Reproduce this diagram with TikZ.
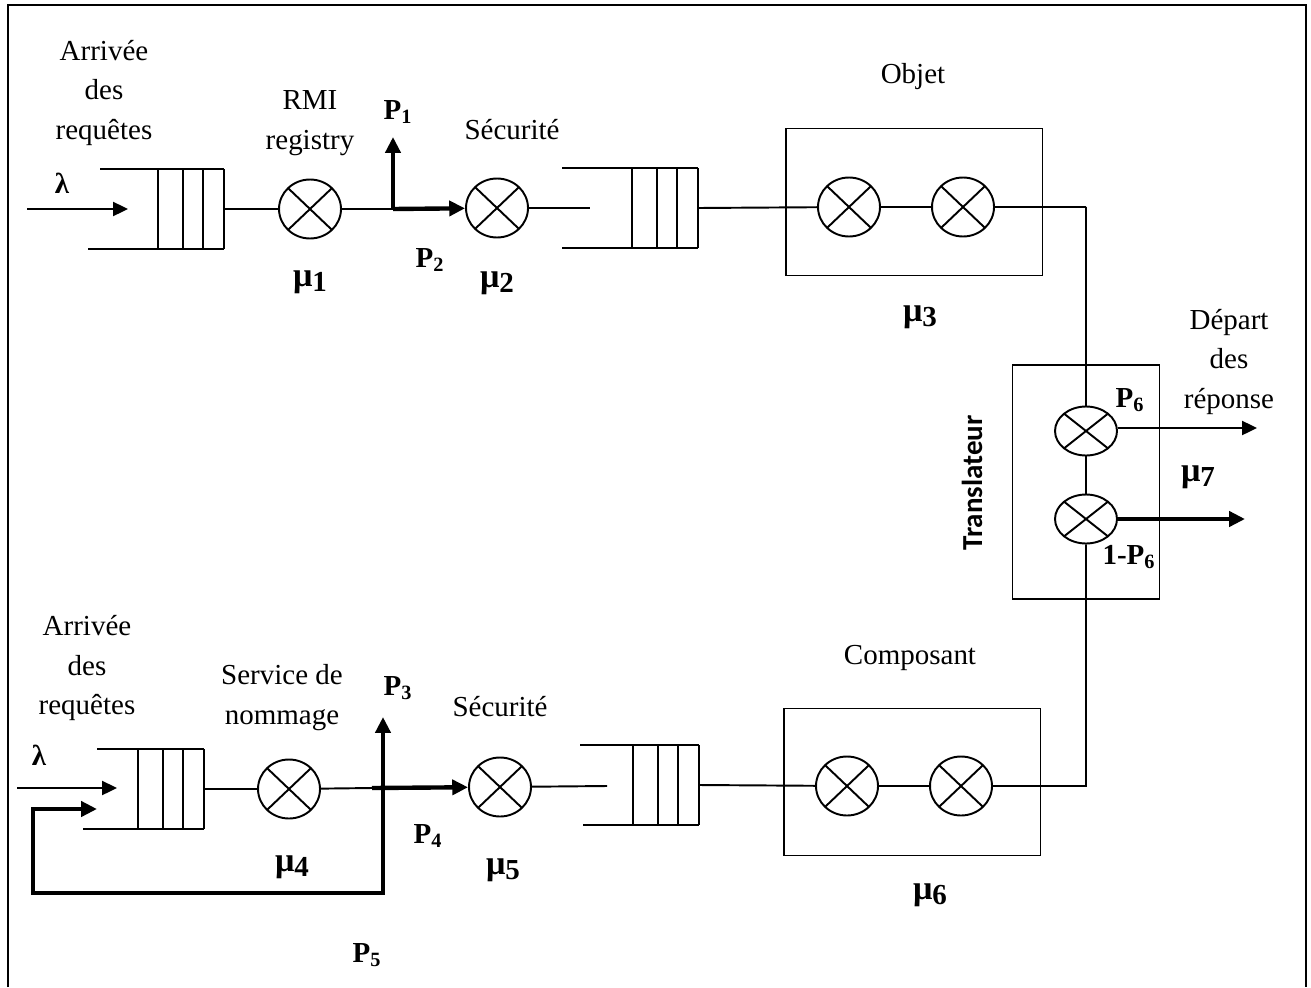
\documentclass[tikz,border=0pt]{standalone}
\usepackage{fontspec}
\setmainfont{Liberation Serif}
\newfontfamily\calibrifont{Carlito}
\usetikzlibrary{shapes.geometric, arrows.meta}

\newcommand\murate[1]{{\fontsize{19.5}{20}\selectfont μ}\raisebox{-3pt}{#1}}

\begin{document}
\begin{tikzpicture}[
    x=0.02cm, y=-0.02cm, >={Triangle[length=8.5pt, width=8pt]},
    every node/.style={font=\fontsize{16.5}{22.7}\selectfont},
    txt/.style={align=center, inner sep=0pt},
    lbl/.style={font=\fontsize{16.5}{18}\selectfont\bfseries, inner sep=0pt},
    wire/.style={line width=1.1pt},
    thickwire/.style={line width=2.5pt, >={Triangle[length=9pt, width=8.5pt]}},
    server/.style={ellipse, draw, line width=1.1pt, minimum width=1.24cm, minimum height=1.18cm, inner sep=0pt,
      path picture={\draw[line width=1.1pt]
        (path picture bounding box.north west) -- (path picture bounding box.south east)
        (path picture bounding box.north east) -- (path picture bounding box.south west);}},
    tserver/.style={server, minimum height=0.98cm},
    stage/.style={rectangle, draw, line width=1.1pt, minimum width=5.14cm, minimum height=2.94cm},
    pics/queue/.style 2 args={code={
      \draw[wire] (-#1,-40) -- (0,-40) (-#2,40) -- (0,40);
      \foreach \dx in {-66,-41,-21,0} \draw[wire] (\dx,-40) -- (\dx,40);
      \coordinate (-out) at (0,0);}},
  ]
  \useasboundingbox (0,0) rectangle (1311,987);
  % frame
  \draw[wire] (8,987) -- (8,5) -- (1306,5) -- (1306,987);

  % first chain: RMI registry
  \node[txt] (arr1) at (104,93) {Arrivée\\des\\requêtes};
  \node[lbl] (lam1) at (62,183) {λ};
  \coordinate (in1)  at (27,209);
  \coordinate (in1e) at (128,209);
  \pic (q1) at (224,209) {queue={124}{136}};
  \node[server] (s1) at (310,209) {};
  \node[txt] (rmi) at (310,123) {RMI\\registry};
  \node[lbl] (mu1) at (310,282) {\murate{1}};
  \coordinate (j1)  at (393,209);
  \coordinate (p1e) at (393,137);
  \node[lbl] (p1) at (398,112) {P\textsubscript{1}};
  \node[lbl] (p2) at (430,260) {P\textsubscript{2}};
  \node[server] (s2) at (497,208) {};
  \node[txt] (sec1) at (512,130) {Sécurité};
  \node[lbl] (mu2) at (497,283) {\murate{2}};
  \coordinate (q2in) at (590,208);
  \pic (q2) at (698,208) {queue={136}{136}};
  \node[stage] (objbox) at (914,202) {};
  \node[txt] (obj) at (913,77) {Objet};
  \node[server] (o1) at (849,207) {};
  \node[server] (o2) at (963,207) {};
  \node[lbl] (mu3) at (920,317) {\murate{3}};
  \coordinate (ca) at (1086,207);

  \draw[wire, ->] (in1) -- (in1e);
  \draw[wire] (q1-out) -- (s1) -- (j1);
  \draw[thickwire, ->] (j1) -- (s2);
  \draw[thickwire, ->] (j1) -- (p1e);
  \draw[wire] (s2) -- (q2in);
  \draw[wire] (q2-out) -- (o1) -- (o2) -- (ca);

  % translator
  \node[stage, minimum width=2.94cm, minimum height=4.68cm] (tbox) at (1086,482) {};
  \node[tserver] (t1) at (1086,431) {};
  \node[tserver] (t2) at (1086,519) {};
  \node[inner sep=0pt, rotate=90, font=\fontsize{16.5}{18}\calibrifont\bfseries] (trans) at (972,483) {Translateur};
  \node[lbl] (p6) at (1130,400) {P\textsubscript{6}};
  \node[lbl] (p6b) at (1129,557) {1-P\textsubscript{6}};
  \node[lbl] (mu7) at (1198,477) {\murate{7}};
  \node[txt] (dep) at (1229,362) {Départ\\des\\réponse};
  \coordinate (out1) at (1257,428);
  \coordinate (out2) at (1245,519);

  \draw[wire] (ca) -- (t1) -- (t2);
  \draw[wire, ->] (t1.east |- out1) -- (out1);
  \draw[thickwire, ->] (t2) -- (out2);

  % second chain: service de nommage
  \node[txt] (arr2) at (87,668) {Arrivée\\des\\requêtes};
  \node[lbl] (lam2) at (39,755) {λ};
  \coordinate (in2)  at (17,788);
  \coordinate (in2e) at (117,788);
  \pic (q3) at (204,789) {queue={107}{121}};
  \node[server] (s4) at (289,789) {};
  \node[txt] (nom) at (282,698) {Service de\\nommage};
  \node[lbl] (mu4) at (292,867) {\murate{4}};
  \coordinate (j2)  at (372,788);
  \coordinate (p3e) at (383,717);
  \coordinate (fb1) at (383,893);
  \coordinate (fb2) at (33,893);
  \coordinate (fb3) at (33,809);
  \coordinate (fb4) at (97,809);
  \node[lbl] (p3) at (398,688) {P\textsubscript{3}};
  \node[lbl] (p4) at (428,836) {P\textsubscript{4}};
  \node[lbl] (p5) at (367,955) {P\textsubscript{5}};
  \node[server] (s5) at (500,787) {};
  \node[txt] (sec2) at (500,707) {Sécurité};
  \node[lbl] (mu5) at (503,870) {\murate{5}};
  \coordinate (q4in) at (607,786);
  \pic (q4) at (699,785) {queue={119}{116}};
  \node[stage] (compbox) at (912,782) {};
  \node[txt] (comp) at (910,658) {Composant};
  \node[server] (c1) at (847,786) {};
  \node[server] (c2) at (961,786) {};
  \node[lbl] (mu6) at (930,895) {\murate{6}};
  \coordinate (cb) at (1086,786);

  \draw[wire, ->] (in2) -- (in2e);
  \draw[wire] (q3-out) -- (s4) -- (j2);
  \draw[thickwire, ->] (j2) -- (s5);
  \draw[thickwire, <->] (p3e) -- (fb1) -- (fb2) -- (fb3) -- (fb4);
  \draw[wire] (s5) -- (q4in);
  \draw[wire] (q4-out) -- (c1) -- (c2) -- (cb) -- (t2);
\end{tikzpicture}
\end{document}
